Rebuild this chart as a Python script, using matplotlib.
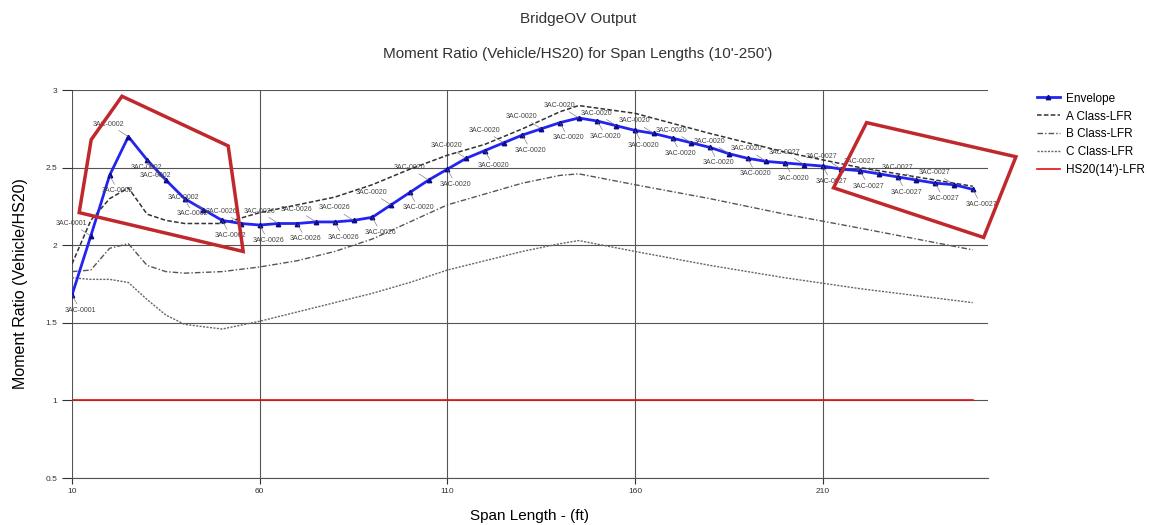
import matplotlib.pyplot as plt
from matplotlib.patches import Polygon
import numpy as np

plt.rcParams['font.family'] = ['Liberation Sans', 'DejaVu Sans']

# envelope of the user vehicles, every 5 ft
env_span = [10, 15, 20, 25, 30, 35, 40, 45, 50, 55, 60, 65, 70, 75, 80, 85, 90,
            95, 100, 105, 110, 115, 120, 125, 130, 135, 140, 145, 150, 155, 160,
            165, 170, 175, 180, 185, 190, 195, 200, 205, 210, 215, 220, 225, 230,
            235, 240, 245, 250]
env_ratio = [1.68, 2.06, 2.45, 2.70, 2.55, 2.42, 2.30, 2.23, 2.16, 2.14, 2.13,
             2.14, 2.14, 2.15, 2.15, 2.16, 2.18, 2.26, 2.34, 2.42, 2.49, 2.56,
             2.61, 2.66, 2.71, 2.75, 2.79, 2.82, 2.80, 2.77, 2.74, 2.72, 2.69,
             2.66, 2.63, 2.59, 2.56, 2.54, 2.53, 2.52, 2.51, 2.49, 2.48, 2.46,
             2.44, 2.42, 2.40, 2.39, 2.36]
env_labels = (['3AC-0001'] * 2 + ['3AC-0002'] * 7 + ['3AC-0026'] * 8 +
              ['3AC-0020'] * 22 + ['3AC-0027'] * 10)

# legal load classes
cls_span = [10, 15, 20, 25, 30, 35, 40, 50, 60, 70, 80, 90, 100, 110, 120, 130,
            140, 145, 160, 180, 200, 220, 250]
a_class = [1.88, 2.16, 2.30, 2.37, 2.20, 2.16, 2.14, 2.14, 2.21, 2.26, 2.31, 2.39,
           2.49, 2.58, 2.65, 2.75, 2.86, 2.90, 2.85, 2.72, 2.60, 2.50, 2.38]
b_class = [1.83, 1.84, 1.98, 2.01, 1.87, 1.83, 1.82, 1.83, 1.86, 1.90, 1.96, 2.04,
           2.15, 2.26, 2.33, 2.40, 2.45, 2.46, 2.39, 2.30, 2.20, 2.11, 1.97]
c_class = [1.79, 1.78, 1.78, 1.76, 1.65, 1.55, 1.49, 1.46, 1.51, 1.57, 1.63, 1.69,
           1.76, 1.84, 1.90, 1.96, 2.01, 2.03, 1.96, 1.87, 1.79, 1.72, 1.63]
hs20_span = [10, 250]
hs20 = [1.0, 1.0]

# red highlight boxes drawn over the chart
box1_x = [11.9, 15.1, 23.3, 51.6, 55.6]
box1_y = [2.21, 2.68, 2.96, 2.64, 1.96]
box2_x = [221.7, 261.5, 252.9, 212.9]
box2_y = [2.79, 2.57, 2.05, 2.37]

fig = plt.figure(figsize=(11.49, 5.25), dpi=100)
ax = fig.add_axes([0.0627, 0.0895, 0.797, 0.739])

ax.plot(env_span, env_ratio, color='#2424f0', lw=2, marker='^', ms=3.2,
        mfc='#0a0a90', mec='#0a0a90', label='Envelope', zorder=5)
ax.plot(cls_span, a_class, color='#333333', lw=1.1, dashes=(3, 1.5),
        label='A Class-LFR', zorder=4)
ax.plot(cls_span, b_class, color='#555555', lw=1.0, dashes=(4, 1.5, 1, 1.5),
        label='B Class-LFR', zorder=4)
ax.plot(cls_span, c_class, color='#666666', lw=1.0, dashes=(1.5, 1),
        label='C Class-LFR', zorder=4)
ax.plot(hs20_span, hs20, color='#e01010', lw=1.2, label="HS20(14')-LFR", zorder=4)

# point labels with small leader lines
for i, (x, y, name) in enumerate(zip(env_span, env_ratio, env_labels)):
    off = (-14, 9) if i % 2 == 1 else (6, -11)
    ax.annotate(name, (x, y), xytext=off, textcoords='offset points',
                fontsize=5, color='#444444', ha='center', va='center',
                arrowprops=dict(arrowstyle='-', lw=0.4, color='#666666',
                                shrinkA=0, shrinkB=0), zorder=6)

for bx, by in [(box1_x, box1_y), (box2_x, box2_y)]:
    ax.add_patch(Polygon(np.column_stack([bx, by]), closed=True, fill=False,
                         ec='#c0282d', lw=2.5, clip_on=False, zorder=7))

ax.set_xlim(10, 254)
ax.set_ylim(0.5, 3)
ax.set_xticks([10, 60, 110, 160, 210])
ax.set_yticks([0.5, 1, 1.5, 2, 2.5, 3])
ax.set_yticklabels(['0.5', '1', '1.5', '2', '2.5', '3'])
ax.grid(True, color='#555555', lw=0.8)
for s in ['top', 'right', 'left']:
    ax.spines[s].set_visible(False)
ax.spines['bottom'].set_color('#555555')
ax.spines['bottom'].set_linewidth(0.8)
ax.tick_params(axis='both', labelsize=6, colors='#333333', length=4, width=0.8)
ax.tick_params(axis='y', length=7)

ax.set_xlabel('Span Length - (ft)', fontsize=11, labelpad=10)
ax.set_ylabel('Moment Ratio (Vehicle/HS20)', fontsize=11.5, labelpad=13)

fig.text(0.503, 1 - 19 / 525, 'BridgeOV Output', ha='center', va='center',
         fontsize=11, color='#333333')
fig.text(0.503, 1 - 54 / 525, "Moment Ratio (Vehicle/HS20) for Span Lengths (10'-250')",
         ha='center', va='center', fontsize=11, color='#333333')

fig.legend(loc='upper left', bbox_to_anchor=(1026 / 1149, 1 - 82 / 525),
           frameon=False, fontsize=8.5, handlelength=2.0, handletextpad=0.5,
           labelspacing=0.5)

fig.savefig('out.png', dpi=100)
